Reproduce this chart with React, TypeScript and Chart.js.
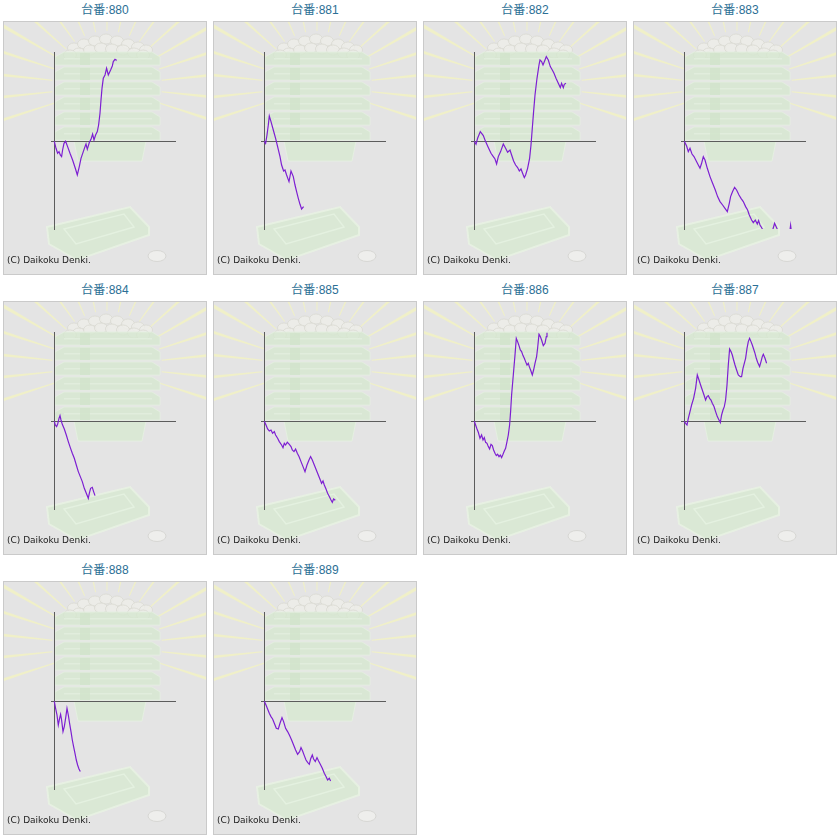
import { useEffect, useRef } from 'react'
import { Chart, registerables, Plugin } from 'chart.js'

Chart.register(...registerables)

// slump data per machine: [game position, ball difference]
const slump880: [number, number][] = [
  [0, 0], [1.7, -7], [3.3, -12], [4.7, -10.3], [6, -13.7], [7.3, -15.3], [8.3, -8.7], [9.7, -2],
  [11.3, 0], [13.3, -5.3], [15.7, -12], [18.3, -18.7], [21, -27], [23, -33.7], [25, -25.3], [26.7, -17],
  [29, -10.3], [30.7, -5.3], [31.7, -2.7], [33, -8], [35, -1.3], [36.7, 2], [38.3, 7.3], [39.7, 1.3],
  [41.3, 6.3], [43, 9.7], [44.3, 16.3], [45.7, 28], [46.7, 41.3], [47.7, 53], [49, 63], [50.7, 66.3],
  [52.3, 73], [54, 66.3], [56.3, 71.3], [58, 75.3], [59, 79.7], [60.7, 82], [61.7, 81.3],
]
const slump881: [number, number][] = [
  [0, 0], [1.3, -2], [2.7, 6.3], [4, 16.3], [5, 25.3], [6.7, 19.7], [9, 11.3], [11.3, 3],
  [13.3, -5.3], [15.7, -15.3], [17.3, -23.7], [19.3, -29.7], [20.7, -28.7], [22.3, -33.7], [24.7, -40.3],
  [26.7, -29.7], [29, -35.3], [30.7, -43.7], [32.3, -50.3], [34, -57], [35.7, -63], [37.3, -67.7], [39.3, -65.3],
]
const slump882: [number, number][] = [
  [0, 0], [1.7, -3], [3.3, 3], [6, 9.7], [9, 5.7], [11.3, -0.3], [14, -6.3], [16.7, -12], [19, -15.3],
  [20.7, -17.7], [22.3, -22.7], [24, -15.3], [26.3, -10.3], [29, -2.7], [31.3, -7], [33.3, -11], [35.7, -8.7],
  [37.3, -13.7], [39.3, -19.7], [41.3, -23.7], [43.3, -26.3], [45, -29.7], [46.7, -27.7], [48.3, -32],
  [50, -36.3], [51.3, -33.7], [53.3, -27], [55.3, -17], [56.7, -3.7], [58, 13], [59.3, 29.7], [60.7, 46.3],
  [62.7, 63], [64.7, 76.3], [65.7, 81.3], [67.3, 79.7], [68.7, 76.3], [70.7, 81.3], [72, 84.7], [74, 81.3],
  [76, 74.7], [78, 71.3], [79.7, 68], [81.7, 63], [84, 58], [86, 53.7], [87.3, 58], [89, 53.7], [90, 57], [91.7, 58],
]
const slump883: [number, number][] = [
  [0, 0], [2.3, -4.7], [4, -10.3], [5.7, -7], [7.7, -12.7], [9.7, -15.3], [11.7, -19.3], [14, -23.7],
  [15.7, -27], [17.3, -22], [19, -15.3], [20.7, -18.7], [23, -27], [25.7, -35.3], [28.3, -42], [31, -48.7],
  [33.3, -55.3], [35.7, -60.3], [38.3, -63.7], [40.7, -67], [43, -70.3], [45, -62], [46.3, -55.3],
  [48.3, -50.3], [50.3, -46], [52.3, -48.7], [54.7, -53.7], [56.7, -57], [59, -60.3], [61.3, -65.3],
  [63.3, -68.7], [65, -73.7], [67.3, -78.7], [69, -81.3], [71, -78.7], [73, -82.7], [74.3, -79.3],
  [75.7, -83.7], [77.7, -87], [80, -93], [84, -96], [88, -90], [90.3, -82], [93, -88], [96, -94],
  [101, -97], [105.3, -92], [106.3, -84], [107.3, -92], [109, -97],
]
const slump884: [number, number][] = [
  [0, 0], [1, -3.7], [2.3, -5.3], [3.3, -3], [4.7, 3], [5.7, 5.7], [6.7, 1.3], [8, -3], [10, -7.7],
  [12, -13.7], [14, -20.3], [16, -26.3], [18, -32], [20, -37], [22, -43.7], [24, -50.3], [26, -55.3],
  [28, -60.3], [30, -67], [32, -72], [34, -77], [35, -72], [36.3, -67], [38, -66], [39.3, -70.3], [40.7, -74.3],
]
const slump885: [number, number][] = [
  [0, 0], [1.7, -3.7], [3.3, -7.7], [5, -9.7], [6.7, -8.7], [8.3, -12], [10, -10.3], [11.3, -13.7],
  [13.3, -17], [15, -20.3], [17.3, -23.7], [18.7, -26.3], [20, -22], [21.3, -23.7], [23, -21], [25, -23],
  [26.7, -25.3], [28, -28.7], [29.7, -30.3], [31.3, -27.7], [33, -32], [34.7, -35.3], [36.7, -40.3],
  [38.7, -45.3], [40.7, -50.3], [42.7, -43.7], [44.7, -38.7], [46.3, -35.3], [48, -38.7], [50, -43.7],
  [52, -48.7], [54, -53.7], [56, -58.7], [57.3, -62], [58.7, -59.7], [60, -63.7], [61.7, -67.7],
  [63.3, -72], [65, -75.3], [66.7, -78.7], [68, -81], [69.3, -77.7], [71, -79],
]
const slump886: [number, number][] = [
  [0, 0], [1.3, -3.7], [2.7, -7.7], [4, -11], [5.7, -17], [7.3, -13.7], [8.7, -18.7], [10, -16.3],
  [11.3, -21], [12.7, -22], [14, -25.3], [15.3, -27.7], [16.7, -23], [18, -24.3], [19.3, -28.7],
  [20.7, -32], [22, -34.3], [23.3, -33], [24.7, -35.3], [26, -33.7], [27.3, -36.3], [28.7, -33],
  [30, -29.7], [31.3, -27], [32.7, -20.3], [34, -13.7], [35.3, -3.7], [36.3, 9.7], [37.3, 26.3],
  [39, 46.3], [40.7, 66.3], [42, 83], [43.3, 79.7], [44.7, 75.7], [46, 71.3], [47.3, 69.7], [48.7, 65.7],
  [50, 63], [51.3, 59.7], [52.7, 56.3], [54, 58], [55, 54.7], [56.3, 51.3], [58, 46.3], [59.3, 51.3],
  [60.7, 58], [62.3, 64.7], [63.3, 73], [64.7, 87], [66, 84.7], [67.3, 81.3], [69, 75.7], [70.7, 78],
  [72, 84.7], [72.7, 89], [73.5, 93],
]
const slump887: [number, number][] = [
  [0, 0], [1.3, -2], [2.7, -3.7], [4, 3], [5.7, 9.7], [7.3, 16.3], [9.3, 23], [11.3, 33], [13, 46.3],
  [14.7, 41.3], [16.3, 36.3], [18, 31.3], [19.7, 26.3], [21.3, 21.3], [22.7, 24.7], [24, 25.7], [25.3, 23],
  [26.7, 21.3], [28, 18], [29.7, 14.7], [31.3, 9.7], [33, 4.7], [34.7, 1.3], [36, -1.3], [37.3, 6.3],
  [38.7, 11.3], [40, 14.7], [41.3, 21.3], [42.7, 36.3], [44, 56.3], [45.3, 72.3], [46.7, 69.7], [48, 66.3],
  [49.3, 61.3], [50.7, 56.3], [52.3, 51.3], [54, 46.3], [56, 44.7], [57.3, 44.7], [58.7, 53], [60, 58],
  [61.3, 63], [62.7, 73], [64, 79.7], [65.3, 83], [66.7, 79.7], [68, 76.3], [69.3, 72.3], [70.7, 68],
  [72, 63], [73.3, 59], [75.3, 54.7], [76.7, 59.7], [78, 64.7], [79, 67], [80.7, 63], [82.3, 58],
]
const slump888: [number, number][] = [
  [0, 0], [1.3, -7], [2.7, -13.7], [4, -23.7], [5.3, -17], [6.3, -13], [7.3, -18.7], [8.7, -30.3],
  [10, -25.3], [11.3, -17], [12.7, -7], [14, -13.7], [15.3, -22], [16.7, -30.3], [18, -38.7], [19.3, -45.3],
  [20.7, -52], [22, -58.7], [23.3, -63.7], [24.7, -67.7], [26, -70.3],
]
const slump889: [number, number][] = [
  [0, 0], [1.7, -3.7], [3.3, -7.7], [5, -12], [6.7, -15.3], [8.3, -17.7], [10, -22], [12, -27], [14, -27.7],
  [15.7, -22], [17.7, -16.3], [19.3, -20.3], [21.3, -27], [23.3, -30.3], [25.3, -34.3], [27.3, -38.7],
  [29.3, -43.7], [31.3, -48.7], [33.3, -53], [35.3, -50.3], [36.7, -46.3], [38.3, -49.7], [40, -54.3],
  [41.7, -58.7], [43.3, -61], [45, -63], [46.3, -57.7], [48, -53.7], [49.3, -57.7], [51, -60.3],
  [52.7, -56.3], [54.3, -59.7], [56, -63], [58, -67], [60, -72], [61.7, -75.3], [63.3, -78.7], [65, -77], [66.3, -79.7],
]

const machineNumbers = ['880', '881', '882', '883', '884', '885', '886', '887', '888', '889']
const slumps = [slump880, slump881, slump882, slump883, slump884, slump885, slump886, slump887, slump888, slump889]

// faded picture behind every graph (rays, ball box stack, tray, coin)
const hallArt: Plugin<'line'> = {
  id: 'hallArt',
  beforeDraw(chart) {
    const { ctx, width, height } = chart
    ctx.save()
    ctx.fillStyle = '#e4e4e4'
    ctx.fillRect(0, 0, width, height)

    const cx = 103
    const cy = 64
    ctx.fillStyle = '#f0f0c8'
    for (let a = -198; a <= 18; a += 12) {
      const t = (a * Math.PI) / 180
      ctx.beginPath()
      ctx.moveTo(cx + 55 * Math.cos(t - 0.008), cy + 55 * Math.sin(t - 0.008))
      ctx.lineTo(cx + 180 * Math.cos(t - 0.016), cy + 180 * Math.sin(t - 0.016))
      ctx.lineTo(cx + 180 * Math.cos(t + 0.016), cy + 180 * Math.sin(t + 0.016))
      ctx.lineTo(cx + 55 * Math.cos(t + 0.008), cy + 55 * Math.sin(t + 0.008))
      ctx.closePath()
      ctx.fill()
    }

    ctx.globalAlpha = 0.8
    // balls on top
    const balls = [
      [70, 26], [80, 22], [91, 19], [102, 17], [113, 19], [124, 22], [134, 25], [142, 28],
      [75, 31], [86, 28], [97, 26], [108, 27], [119, 28], [130, 31], [66, 33], [139, 33],
    ]
    for (const [bx, by] of balls) {
      ctx.beginPath()
      ctx.ellipse(bx, by, 6.5, 5, 0, 0, Math.PI * 2)
      ctx.fillStyle = '#eeeee8'
      ctx.fill()
      ctx.strokeStyle = '#dadad2'
      ctx.lineWidth = 1
      ctx.stroke()
    }

    // stacked ball boxes
    for (let i = 0; i < 6; i++) {
      const y = 30 + i * 15
      ctx.beginPath()
      ctx.moveTo(51, y + 5)
      ctx.lineTo(60, y)
      ctx.lineTo(148, y)
      ctx.lineTo(156, y + 5)
      ctx.lineTo(156, y + 13)
      ctx.lineTo(51, y + 13)
      ctx.closePath()
      ctx.fillStyle = '#d6e7d0'
      ctx.fill()
      ctx.strokeStyle = '#e5f0e1'
      ctx.stroke()
      ctx.fillStyle = '#e2efde'
      ctx.fillRect(60, y + 6, 88, 1.5)
      ctx.fillStyle = '#d1e3ca'
      ctx.fillRect(76, y + 1, 10, 12)
    }
    ctx.beginPath()
    ctx.moveTo(70, 119)
    ctx.lineTo(142, 119)
    ctx.lineTo(138, 139)
    ctx.lineTo(74, 139)
    ctx.closePath()
    ctx.fillStyle = '#d7e8d1'
    ctx.fill()
    ctx.strokeStyle = '#e6f1e2'
    ctx.stroke()

    // tray
    ctx.beginPath()
    ctx.moveTo(43, 205)
    ctx.lineTo(126, 185)
    ctx.lineTo(145, 205)
    ctx.lineTo(145, 213)
    ctx.lineTo(73, 238)
    ctx.lineTo(45, 222)
    ctx.closePath()
    ctx.fillStyle = '#d7e9d1'
    ctx.fill()
    ctx.strokeStyle = '#e8f3e4'
    ctx.lineWidth = 2
    ctx.stroke()
    ctx.beginPath()
    ctx.moveTo(60, 207)
    ctx.lineTo(120, 192)
    ctx.lineTo(130, 205)
    ctx.lineTo(72, 222)
    ctx.closePath()
    ctx.strokeStyle = '#e6f2e2'
    ctx.lineWidth = 1.5
    ctx.stroke()

    // coin
    ctx.beginPath()
    ctx.ellipse(153, 234, 9, 5.5, 0, 0, Math.PI * 2)
    ctx.fillStyle = '#f0f0ee'
    ctx.fill()
    ctx.strokeStyle = '#d2d2ce'
    ctx.lineWidth = 1
    ctx.stroke()

    ctx.globalAlpha = 1
    ctx.fillStyle = '#1c1c1c'
    ctx.font = '9px "DejaVu Sans"'
    ctx.textBaseline = 'alphabetic'
    ctx.fillText('(C) Daikoku Denki.', 3, 240.5)
    ctx.restore()
  },
}

function SlumpGraph({ points }: { points: [number, number][] }) {
  const canvasRef = useRef<HTMLCanvasElement>(null)

  useEffect(() => {
    if (!canvasRef.current) return
    const chart = new Chart(canvasRef.current, {
      type: 'line',
      data: {
        datasets: [
          {
            data: points.map(([x, y]) => ({ x, y })),
            borderColor: '#7d1fd2',
            borderWidth: 1.2,
            pointRadius: 0,
            tension: 0,
            fill: false,
          },
        ],
      },
      options: {
        responsive: false,
        animation: false,
        events: [],
        layout: { padding: { left: 47, right: 30.3, top: 30.7, bottom: 45 } },
        scales: {
          x: {
            type: 'linear',
            min: -3.3,
            max: 121.4,
            position: { y: 0 },
            grid: { display: false },
            ticks: { display: false },
            border: { color: '#5c5c5c', width: 1 },
          },
          y: {
            type: 'linear',
            min: -87.7,
            max: 88.6,
            position: { x: 0 },
            grid: { display: false },
            ticks: { display: false },
            border: { color: '#5c5c5c', width: 1 },
          },
        },
        plugins: {
          legend: { display: false },
          tooltip: { enabled: false },
        },
      },
      plugins: [hallArt],
    })
    return () => chart.destroy()
  }, [points])

  return <canvas ref={canvasRef} width={202} height={252} style={{ display: 'block' }} />
}

export default function App() {
  return (
    <div style={{ position: 'fixed', left: 0, top: 0, width: 840, height: 840, background: '#fff' }}>
      {machineNumbers.map((num, i) => (
        <div
          key={num}
          style={{ position: 'absolute', left: (i % 4) * 210, top: Math.floor(i / 4) * 280, width: 210, height: 280 }}
        >
          <div
            style={{
              position: 'absolute',
              top: 3,
              left: 0,
              width: 210,
              lineHeight: '15px',
              textAlign: 'center',
              fontSize: 12,
              fontFamily: '"Liberation Sans", "Noto Sans CJK JP", sans-serif',
              color: '#2b6f95',
            }}
          >
            台番:{num}
          </div>
          <div style={{ position: 'absolute', left: 3, top: 21, border: '1px solid #cacaca' }}>
            <SlumpGraph points={slumps[i]} />
          </div>
        </div>
      ))}
    </div>
  )
}
